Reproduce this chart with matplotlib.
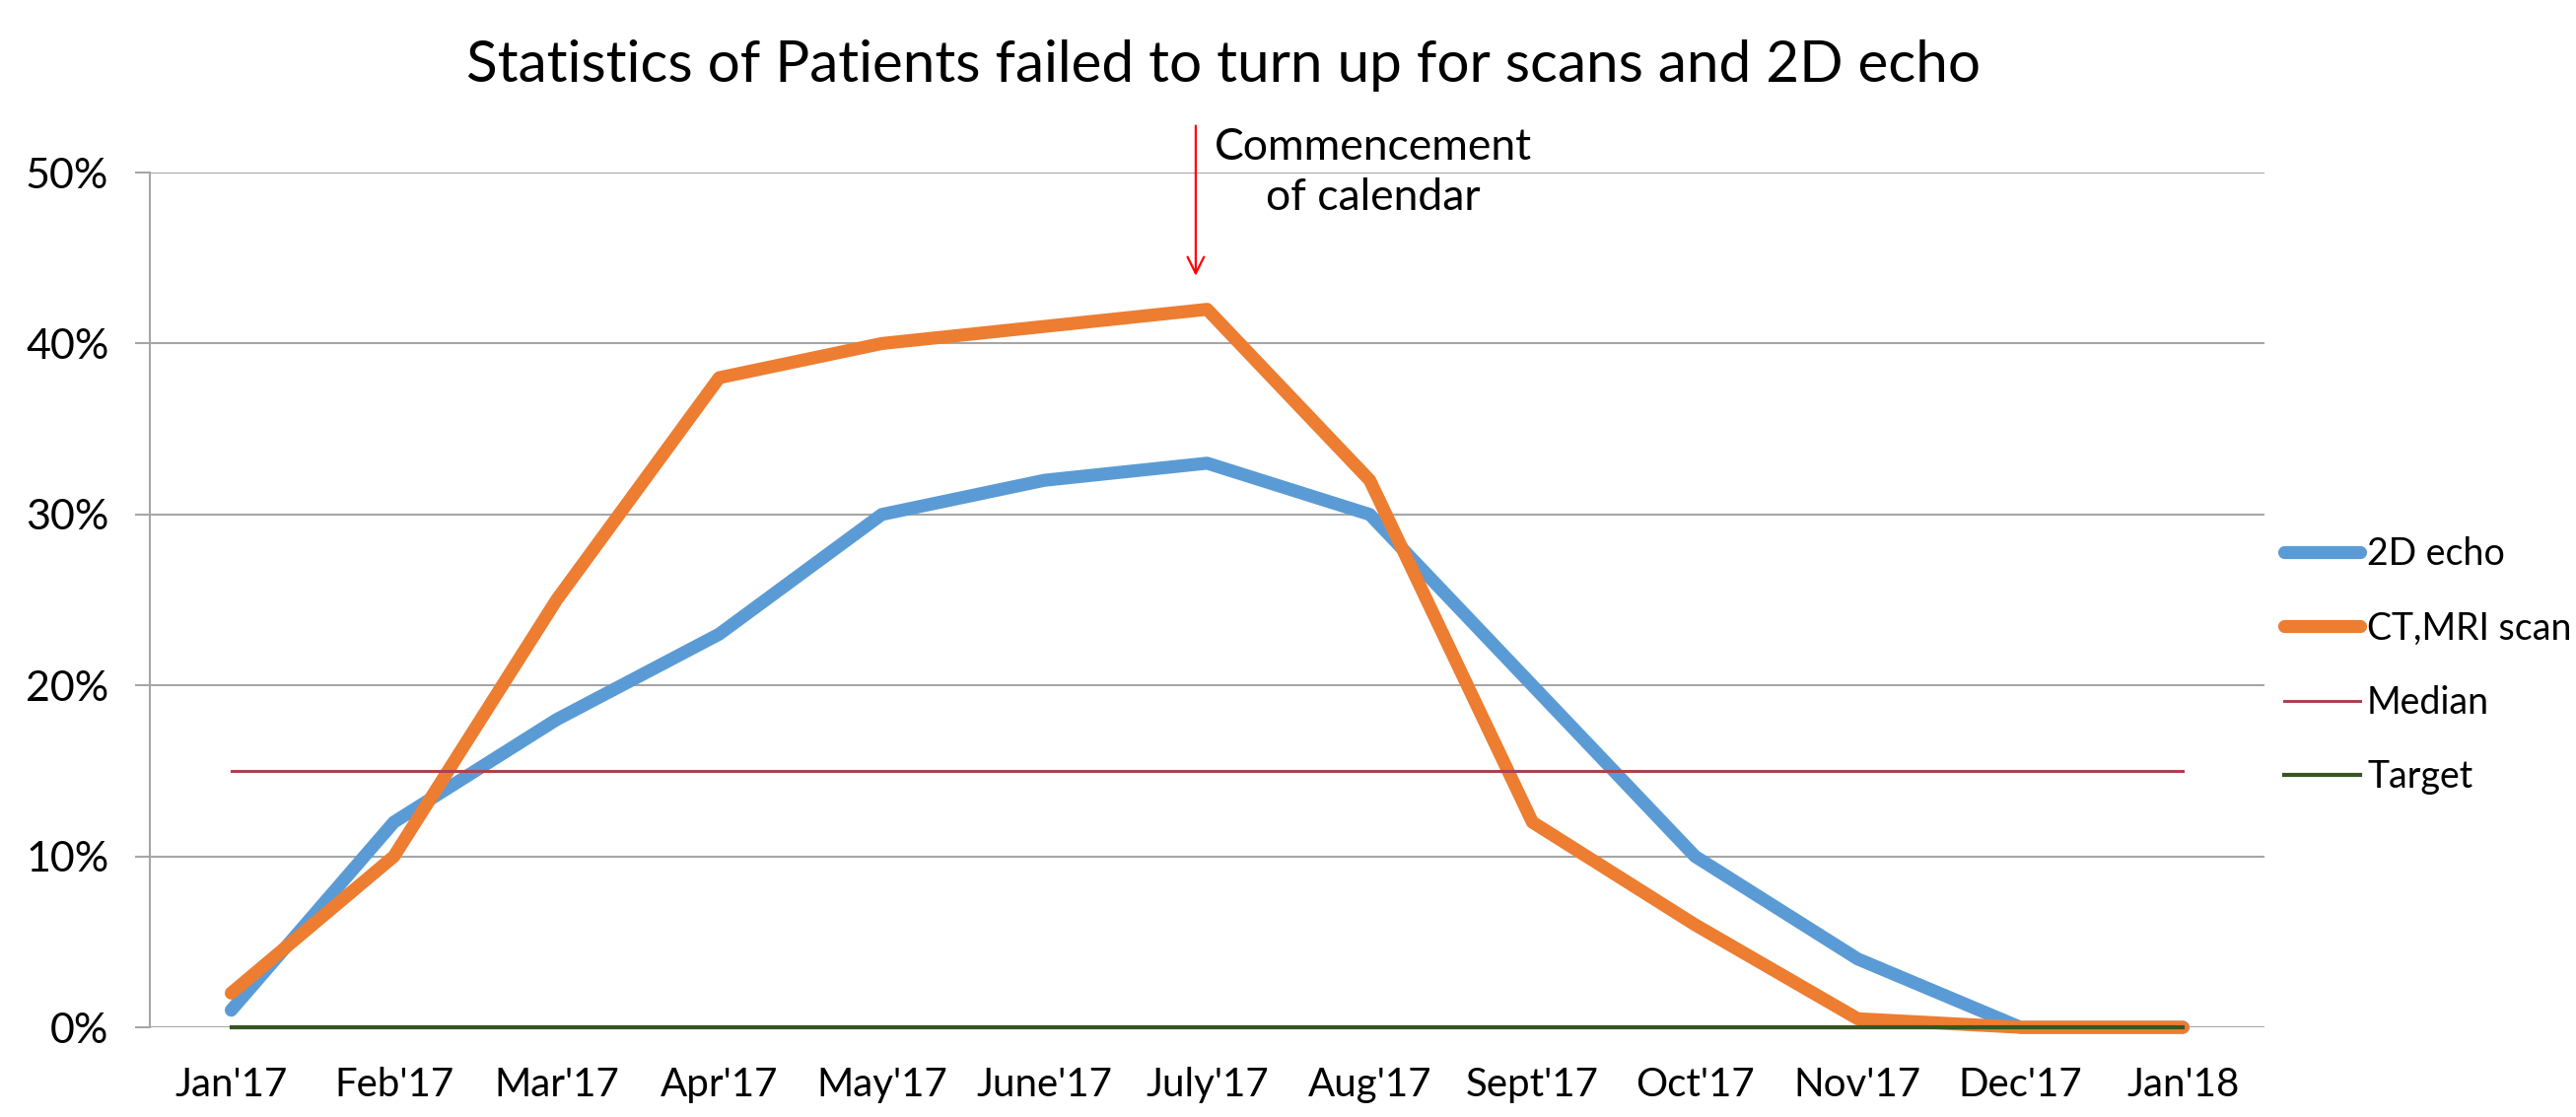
import matplotlib
matplotlib.use("Agg")
import matplotlib.pyplot as plt
from matplotlib.ticker import PercentFormatter

# Values (percent)
months = ["Jan'17", "Feb'17", "Mar'17", "Apr'17", "May'17", "June'17", "July'17",
          "Aug'17", "Sept'17", "Oct'17", "Nov'17", "Dec'17", "Jan'18"]
echo_2d = [1, 12, 18, 23, 30, 32, 33, 30, 20, 10, 4, 0, 0]
ct_mri = [2, 10, 25, 38, 40, 41, 42, 32, 12, 6, 0.5, 0, 0]
median = [15] * len(months)
target = [0] * len(months)

plt.rcParams['font.family'] = ['Lato', 'DejaVu Sans']

fig = plt.figure(figsize=(26.13, 11.33), dpi=100)
ax = fig.add_axes([0.0582, 0.0803, 0.8208, 0.7652])

x = list(range(len(months)))
grid_col = '#A6A6A6'

ax.plot(x, echo_2d, color='#5B9BD5', lw=9.5, solid_capstyle='round', clip_on=False, label='2D echo', zorder=3)
ax.plot(x, ct_mri, color='#ED7D31', lw=9.5, solid_capstyle='round', clip_on=False, label='CT,MRI scan', zorder=4)
ax.plot(x, median, color='#A9434F', lw=2.2, clip_on=False, label='Median', zorder=5)
ax.plot(x, target, color='#375623', lw=3, clip_on=False, label='Target', zorder=6)

ax.set_xlim(-0.5, len(months) - 0.5)
ax.set_ylim(0, 50)
ax.set_yticks([0, 10, 20, 30, 40, 50])
ax.yaxis.set_major_formatter(PercentFormatter(decimals=0))
ax.set_xticks(x)
ax.set_xticklabels(months)
ax.grid(axis='y', color=grid_col, lw=1.5)
ax.set_axisbelow(True)

for side in ['top', 'right', 'bottom']:
    ax.spines[side].set_visible(False)
ax.spines['left'].set_color(grid_col)
ax.spines['left'].set_linewidth(1.5)

ax.tick_params(axis='y', length=11, width=1.5, color=grid_col, pad=19, labelsize=31)
ax.tick_params(axis='x', length=0, pad=29, labelsize=29)

# annotation: start of the calendar
ax.annotate('', xy=(5.93, 43.8), xytext=(5.93, 52.9), annotation_clip=False,
            arrowprops=dict(arrowstyle='->', color='red', lw=1.6, mutation_scale=30))
ax.text(7.02, 50, 'Commencement\nof calendar', ha='center', va='center',
        fontsize=32, linespacing=1.3, clip_on=False)

fig.suptitle('Statistics of Patients failed to turn up for scans and 2D echo',
             x=0.475, y=0.941, va='center', fontsize=42)

fig.legend(loc='center left', bbox_to_anchor=(0.8737, 0.404), frameon=False,
           fontsize=27, handlelength=2.05, handletextpad=0.2, labelspacing=1.05)

fig.savefig('out.png', dpi=100)
